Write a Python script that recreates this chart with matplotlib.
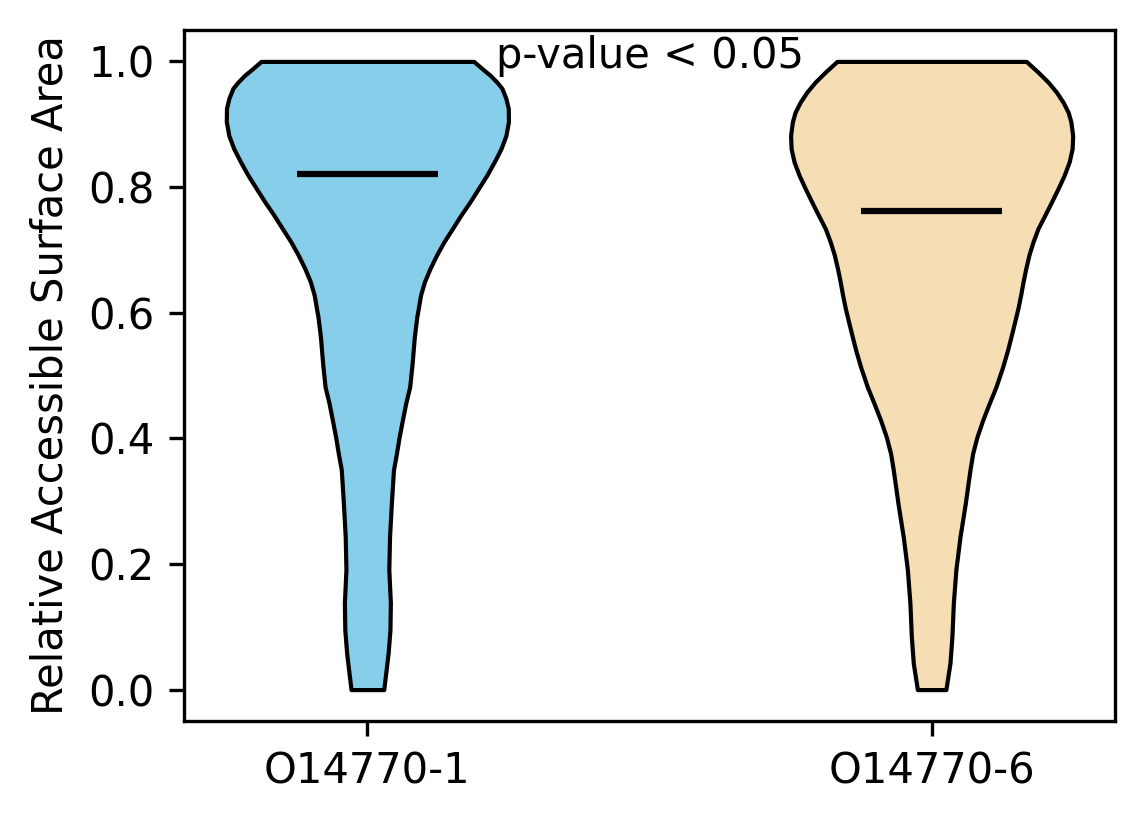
import numpy as np
import matplotlib
matplotlib.use("Agg")
import matplotlib.pyplot as plt

# ---- data ----
categories = ["O14770-1", "O14770-6"]
positions = [1, 2]
colors = ["skyblue", "wheat"]

# relative density profile (normalised to max = 1) along RSA
coords_1 = [0.000, 0.026, 0.058, 0.095, 0.138, 0.191, 0.243, 0.297, 0.350, 0.376,
            0.402, 0.429, 0.456, 0.482, 0.519, 0.562, 0.593, 0.607, 0.628, 0.649,
            0.670, 0.692, 0.713, 0.734, 0.755, 0.776, 0.798, 0.819, 0.840, 0.861,
            0.882, 0.904, 0.925, 0.941, 0.957, 0.967, 0.978, 0.988, 1.000]
dens_1 = [0.116, 0.130, 0.147, 0.160, 0.163, 0.152, 0.157, 0.170, 0.185, 0.206,
          0.225, 0.248, 0.272, 0.300, 0.317, 0.333, 0.350, 0.361, 0.377, 0.404,
          0.443, 0.491, 0.543, 0.603, 0.662, 0.726, 0.788, 0.847, 0.899, 0.947,
          0.982, 1.000, 0.999, 0.982, 0.954, 0.918, 0.870, 0.816, 0.754]

coords_6 = [0.000, 0.042, 0.085, 0.138, 0.191, 0.243, 0.297, 0.350, 0.376, 0.402,
            0.429, 0.456, 0.482, 0.514, 0.541, 0.572, 0.607, 0.628, 0.649, 0.670,
            0.692, 0.713, 0.734, 0.755, 0.776, 0.798, 0.819, 0.840, 0.861, 0.882,
            0.904, 0.919, 0.935, 0.951, 0.967, 0.983, 1.000]
dens_6 = [0.101, 0.130, 0.144, 0.154, 0.172, 0.201, 0.239, 0.272, 0.291, 0.321,
          0.362, 0.409, 0.456, 0.504, 0.539, 0.574, 0.612, 0.631, 0.648, 0.667,
          0.690, 0.719, 0.754, 0.802, 0.849, 0.897, 0.940, 0.975, 0.996, 1.000,
          0.987, 0.968, 0.932, 0.885, 0.826, 0.754, 0.671]

medians = [0.821, 0.762]
means = [0.70, 0.66]
p_text = "p-value < 0.05"

# ---- figure ----
fig = plt.figure(figsize=(1144 / 300, 824 / 300), dpi=300)
ax = fig.add_subplot(111)
fig.subplots_adjust(left=184 / 1144, right=1115 / 1144, bottom=1 - 721 / 824, top=1 - 30 / 824)

vpstats = [
    dict(coords=np.array(coords_1), vals=np.array(dens_1), mean=means[0],
         median=medians[0], min=coords_1[0], max=coords_1[-1]),
    dict(coords=np.array(coords_6), vals=np.array(dens_6), mean=means[1],
         median=medians[1], min=coords_6[0], max=coords_6[-1]),
]

parts = ax.violin(vpstats, positions=positions, widths=0.5,
                  showmeans=False, showextrema=False, showmedians=True)
for body, c in zip(parts["bodies"], colors):
    body.set_facecolor(c)
    body.set_edgecolor("black")
    body.set_linewidth(1.0)
    body.set_alpha(1)
parts["cmedians"].set_color("black")
parts["cmedians"].set_linewidth(1.5)

ax.set_xticks(positions)
ax.set_xticklabels(categories)
ax.set_ylabel("Relative Accessible Surface Area")
ax.text(1.5, 1.008, p_text, ha="center", va="center", fontsize=10)

fig.savefig("out.png", dpi=300)
